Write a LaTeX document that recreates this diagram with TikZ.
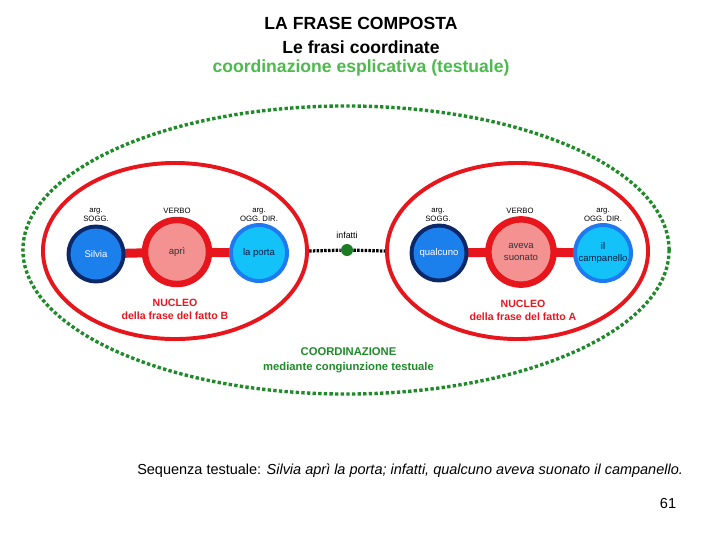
\documentclass[tikz,border=0pt]{standalone}
\usepackage{fontspec}
\setmainfont{Liberation Sans}
\usepackage{tikz}
\usetikzlibrary{shapes.geometric,backgrounds}

\definecolor{navy}{RGB}{12,40,105}
\definecolor{argblue}{RGB}{28,128,236}
\definecolor{nucred}{RGB}{230,22,28}
\definecolor{verbfill}{RGB}{244,146,146}
\definecolor{objline}{RGB}{30,122,240}
\definecolor{objfill}{RGB}{20,194,250}
\definecolor{coordgreen}{RGB}{30,138,40}
\definecolor{titlegreen}{RGB}{76,186,76}

\tikzset{
  argsogg/.style={circle, draw=navy, line width=2.8pt, fill=argblue, minimum size=1.375cm,
    inner sep=0pt, text=white, font=\fontsize{6.8}{8}\selectfont},
  verbo/.style={circle, draw=nucred, line width=4.6pt, fill=verbfill, minimum size=1.6cm,
    inner sep=0pt, text=black!80, align=center, font=\fontsize{6.8}{8.5}\selectfont},
  argogg/.style={circle, draw=objline, line width=2.8pt, fill=objfill, minimum size=1.4cm,
    inner sep=0pt, text=navy!60!black, align=center, font=\fontsize{6.8}{8.5}\selectfont},
  ruolo/.style={inner sep=0pt, align=center, font=\fontsize{5.5}{5.9}\selectfont},
  nucleo/.style={ellipse, draw=nucred, line width=2.8pt, minimum height=4.4cm, inner sep=0pt},
  bar/.style={nucred, line width=6.4pt},
  nuctext/.style={text=nucred, align=center, font=\bfseries\fontsize{7.5}{9.2}\selectfont},
  coordtext/.style={text=coordgreen, align=center, font=\bfseries\fontsize{8}{10.7}\selectfont},
  dotline/.style={line width=2.3pt, dash pattern=on 1.8pt off 0.9pt},
  titolo/.style={font=\bfseries\fontsize{12.5}{15}\selectfont}
}

\begin{document}
\begin{tikzpicture}[x=0.025cm, y=-0.025cm]
\useasboundingbox (0,0) rectangle (720,540);

% titolo
\node[titolo] (tit1) at (361,23) {LA FRASE COMPOSTA};
\node[titolo] (tit2) at (361,47) {Le frasi coordinate};
\node[titolo, text=titlegreen] (tit3) at (361,68) {coordinazione esplicativa (testuale)};

% coordinazione
\draw[coordgreen, line width=2.4pt, dash pattern=on 2.4pt off 1.6pt]
  (346,250) ellipse [x radius=8.075cm, y radius=3.6cm];

% nucleo B
\node[nucleo, minimum width=6.6cm] (nucB) at (175,251) {};
\node[argsogg] (silvia) at (96,254) {Silvia};
\node[verbo] (apri) at (177,252) {aprì};
\node[argogg] (porta) at (259,253) {la porta};
\node[ruolo] (soggB) at (96,215) {arg.\\SOGG.};
\node[ruolo] (verbB) at (177,211) {VERBO};
\node[ruolo] (oggB) at (259,215) {arg.\\OGG. DIR.};
\node[nuctext] (nucBtext) at (175,309.5) {NUCLEO\\della frase del fatto B};

% nucleo A
\node[nucleo, minimum width=6.525cm] (nucA) at (517.5,251) {};
\node[argsogg] (qualcuno) at (439,253) {qualcuno};
\node[verbo, minimum size=1.63cm] (aveva) at (521,252) {aveva\\suonato};
\node[argogg] (campanello) at (603,253) {il\\campanello};
\node[ruolo] (soggA) at (438,215) {arg.\\SOGG.};
\node[ruolo] (verbA) at (520,211) {VERBO};
\node[ruolo] (oggA) at (603,215) {arg.\\OGG. DIR.};
\node[nuctext] (nucAtext) at (523,310) {NUCLEO\\della frase del fatto A};

\begin{scope}[on background layer]
\draw[bar] (silvia.center) -- (apri.center) -- (porta.center);
\draw[bar] (qualcuno.center) -- (aveva.center) -- (campanello.center);
\end{scope}

% congiunzione
\node[circle, fill=coordgreen!90!black, minimum size=0.3cm, inner sep=0pt] (infdot) at (347,250) {};
\node[inner sep=0pt, font=\fontsize{6.3}{7}\selectfont] (infatti) at (347,235) {infatti};
\draw[dotline] (nucB.east) -- (infdot) -- (nucA.west);

\node[coordtext] (coordtext) at (348.5,360.5) {COORDINAZIONE\\mediante congiunzione testuale};

% sequenza
\node[anchor=west, inner sep=0pt, font=\fontsize{10.3}{12}\selectfont] (sequenza) at (137,471)
  {Sequenza testuale: \textit{Silvia aprì la porta; infatti, qualcuno aveva suonato il campanello.}};
\node[inner sep=0pt, font=\fontsize{10.3}{12}\selectfont] (pagina) at (668,504) {61};
\end{tikzpicture}
\end{document}
